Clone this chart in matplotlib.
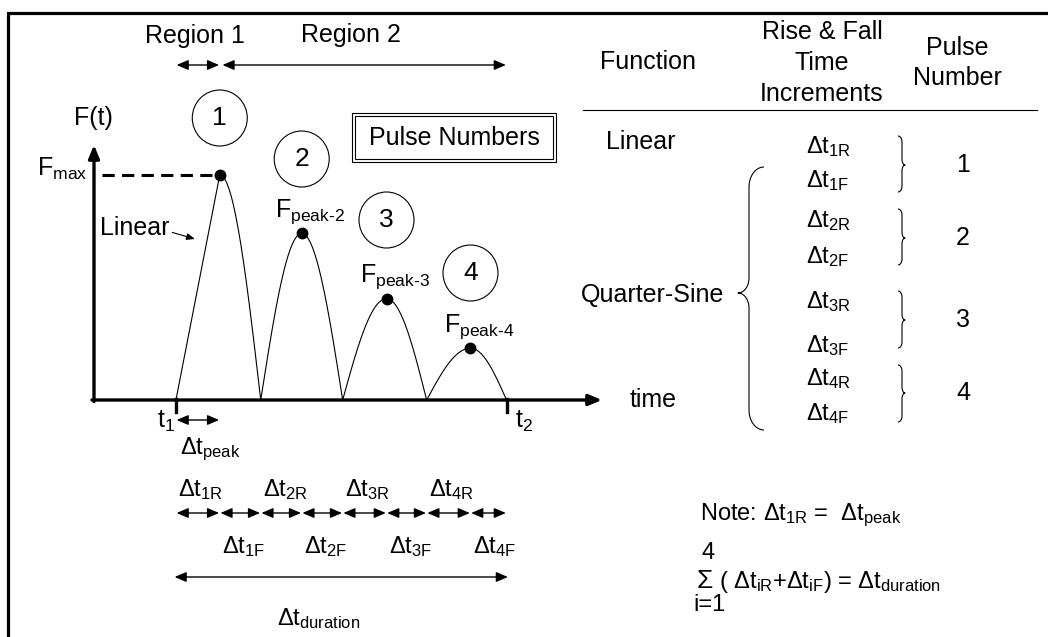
import numpy as np
import matplotlib
matplotlib.use('Agg')
import matplotlib.pyplot as plt
from matplotlib.patches import Ellipse, Rectangle
from matplotlib.transforms import blended_transform_factory

plt.rcParams['font.family'] = ['Liberation Sans', 'DejaVu Sans']
plt.rcParams['mathtext.fontset'] = 'custom'
plt.rcParams['mathtext.rm'] = 'Liberation Sans'
plt.rcParams['mathtext.it'] = 'Liberation Sans'
plt.rcParams['mathtext.default'] = 'regular'

# pulse train (time in arbitrary units, force normalised by Fmax)
t1 = 2.0
rise = [1.07, 1.0, 1.07, 1.07]
fall = [1.0, 1.0, 0.98, 0.88]
peaks = [1.0, 0.74, 0.45, 0.23]
pulse_no = ['1', '2', '3', '4']
t_end = 12.4
f_end = 1.133

# segment edges t1, peak1, end1, peak2, ...
edges = [t1]
for r, f in zip(rise, fall):
    edges.append(edges[-1] + r)
    edges.append(edges[-1] + f)
t_peak = edges[1::2]
t2 = edges[-1]

W, H = 1048, 637
fig = plt.figure(figsize=(W / 100, H / 100), dpi=100)

# overlay in pixel units for the annotations
ov = fig.add_axes([0, 0, 1, 1])
ov.set_xlim(0, W)
ov.set_ylim(H, 0)
ov.axis('off')

# the F(t) plot itself
ax = fig.add_axes([94 / W, (H - 400) / H, (602 - 94) / W, (400 - 145) / H])
ax.set_xlim(0, t_end)
ax.set_ylim(0, f_end)
ax.axis('off')
ax.patch.set_visible(False)

bt = blended_transform_factory(ax.transData, ov.transData)


def to_px(t, f=0.0):
    p = ax.transData.transform((t, f))
    return ov.transData.inverted().transform(p)


def darrow(x0, x1, y, trans=bt, ms=10):
    ov.annotate('', xy=(x1, y), xytext=(x0, y), xycoords=trans, textcoords=trans,
                arrowprops=dict(arrowstyle='<|-|>,head_length=0.7,head_width=0.3',
                                lw=1.0, color='k', mutation_scale=ms,
                                shrinkA=0.5, shrinkB=0.5))


def brace(x, y0, y1, ytip, rx, ry, tx, ty, side, lw=0.8):
    # side=-1 -> '{' , side=+1 -> '}'
    pts = []
    a = np.linspace(0, np.pi / 2, 20)
    # top curl
    cx, cy = x - side * rx, y0 + ry
    pts += list(zip(cx + side * rx * np.sin(a), cy - ry * np.cos(a)))
    # down to tip
    cx, cy = x + side * tx, ytip - ty
    pts += list(zip(cx - side * tx * np.cos(a), cy + ty * np.sin(a)))
    cx, cy = x + side * tx, ytip + ty
    pts += list(zip(cx - side * tx * np.sin(a), cy - ty * np.cos(a)))
    # bottom curl
    cx, cy = x - side * rx, y1 - ry
    pts += list(zip(cx + side * rx * np.cos(a), cy + ry * np.sin(a)))
    xs, ys = zip(*pts)
    ov.plot(xs, ys, color='k', lw=lw, solid_capstyle='butt')


# frame
ov.plot([7.7, 7.7, W], [H, 13, 13], color='k', lw=2.3, solid_joinstyle='miter')

# axes with arrows
axis_arrow = dict(arrowstyle='-|>,head_length=0.6,head_width=0.25', lw=2.4,
                  color='k', mutation_scale=13, shrinkA=0, shrinkB=0)
ax.annotate('', xy=(1, 0), xytext=(-0.004, 0), xycoords='axes fraction',
            arrowprops=axis_arrow)
ax.annotate('', xy=(0, 1), xytext=(0, -0.006), xycoords='axes fraction',
            arrowprops=axis_arrow)

# pulses
xs = [t1, t_peak[0]]
ys = [0, peaks[0]]
for i, p in enumerate(peaks):
    t0 = edges[2 * i]
    tp = edges[2 * i + 1]
    te = edges[2 * i + 2]
    if i > 0:
        s = np.linspace(0, 1, 60)
        xs += list(t0 + s * (tp - t0))
        ys += list(p * np.sin(np.pi / 2 * s))
    s = np.linspace(0, 1, 60)
    xs += list(tp + s * (te - tp))
    ys += list(p * np.cos(np.pi / 2 * s))
ax.plot(xs, ys, color='k', lw=0.8, clip_on=False)
ax.plot(t_peak, peaks, 'o', color='k', ms=7.5, clip_on=False)
ax.plot([0.2, t_peak[0]], [peaks[0], peaks[0]], color='k', lw=2.2,
        ls=(0, (4, 2.4)), clip_on=False)

# t1 / t2 ticks
for t in [t1, t2]:
    ov.plot([t, t], [399, 412], transform=bt, color='k', lw=2.4)

ov.text(157, 428, 't$_1$', fontsize=18, ha='left', va='baseline')
ov.text(515, 428, 't$_2$', fontsize=18, ha='left', va='baseline')
ov.text(87, 176, 'F$_{max}$', fontsize=18, ha='right', va='baseline')
ov.text(93, 118, 'F(t)', fontsize=18, ha='center', va='center')
ov.text(630, 400, 'time', fontsize=18, ha='left', va='center')

# Linear label
ov.annotate('Linear', xy=(195, 239), xytext=(100, 228), xycoords='data',
            fontsize=18, ha='left', va='center',
            arrowprops=dict(arrowstyle='-|>,head_length=0.5,head_width=0.2',
                            lw=0.8, color='k', mutation_scale=10,
                            shrinkA=0, shrinkB=0, relpos=(1.0, 0.35)))

# peak labels
for i in range(1, 4):
    ov.annotate('F$_{peak\\text{-}%s}$' % pulse_no[i], xy=(t_peak[i], peaks[i]),
                xycoords=ax.transData, xytext=(-19, 12), textcoords='offset points',
                fontsize=18, ha='left', va='baseline')

# pulse-number circles
circ_y = [118, 159, 220, 273]
for i, tp in enumerate(t_peak):
    cx = to_px(tp)[0]
    ov.add_patch(Ellipse((cx, circ_y[i]), 55, 56, fill=False, lw=0.8, color='k'))
    ov.text(cx, circ_y[i], pulse_no[i], fontsize=19, ha='center', va='center')

# Pulse Numbers box
ov.add_patch(Rectangle((352, 113), 204, 49, fill=False, lw=0.8, color='k'))
ov.add_patch(Rectangle((355, 116), 198, 43, fill=False, lw=0.8, color='k'))
ov.text(454, 138, 'Pulse Numbers', fontsize=18, ha='center', va='center')

# Regions
ov.text(195, 36, 'Region 1', fontsize=18, ha='center', va='center')
ov.text(351, 35, 'Region 2', fontsize=18, ha='center', va='center')
darrow(t1, t_peak[0], 65)
darrow(t_peak[0] + 0.05, t2, 65)

# delta t annotations below the time axis
darrow(t1, t_peak[0], 420)
ov.text(180, 454, 'Δt$_{peak}$', fontsize=17, ha='left', va='baseline')
for k in range(8):
    darrow(edges[k], edges[k + 1], 513)
    n = pulse_no[k // 2]
    if k % 2 == 0:
        ov.annotate('Δt$_{%sR}$' % n, xy=(edges[k], 496), xycoords=bt,
                    xytext=(1.5, 0), textcoords='offset points',
                    fontsize=17, ha='left', va='baseline')
    else:
        ov.annotate('Δt$_{%sF}$' % n, xy=(edges[k], 553), xycoords=bt,
                    xytext=(1.5, 0), textcoords='offset points',
                    fontsize=17, ha='left', va='baseline')
darrow(t1 - 0.05, t2 + 0.05, 577)
ov.text(277, 625, 'Δt$_{duration}$', fontsize=17, ha='left', va='baseline')

# table on the right
ov.text(648, 62, 'Function', fontsize=18, ha='center', va='center')
for txt, y in zip(['Rise & Fall', 'Time', 'Increments'], [32, 63, 94]):
    ov.text(822, y, txt, fontsize=18, ha='center', va='center')
for txt, y in zip(['Pulse', 'Number'], [48, 78]):
    ov.text(957, y, txt, fontsize=18, ha='center', va='center')
ov.plot([583, 1037], [110, 110], color='k', lw=0.8)

ov.text(641, 142, 'Linear', fontsize=18, ha='center', va='center')
ov.text(581, 295, 'Quarter-Sine', fontsize=18, ha='left', va='center')

tab_base = [153, 187, 227, 263, 308, 352, 385, 420]
for k in range(8):
    n = pulse_no[k // 2]
    lab = 'Δt$_{%s%s}$' % (n, 'R' if k % 2 == 0 else 'F')
    ov.text(806, tab_base[k], lab, fontsize=17, ha='left', va='baseline')

num_y = [165, 238, 320, 393]
brace_span = [(136, 192), (209, 265), (291, 348), (365, 422)]
for i in range(4):
    y0, y1 = brace_span[i]
    brace(902, y0, y1, num_y[i], 4, 6, 3, 6, +1)
    ov.text(963, num_y[i], pulse_no[i], fontsize=18, ha='center', va='center')

brace(749, 167, 430, 293, 15, 20, 11, 15, -1)

# notes
ov.text(700, 520, 'Note: Δt$_{1R}$ =  Δt$_{peak}$', fontsize=17, ha='left', va='baseline')
ov.text(702, 553, '4', fontsize=17, ha='left', va='center')
ov.text(697, 588, 'Σ', fontsize=19, ha='left', va='baseline')
ov.text(719, 588, '( Δt$_{iR}$+Δt$_{iF}$) = Δt$_{duration}$', fontsize=17,
        ha='left', va='baseline')
ov.text(693, 605, 'i=1', fontsize=17, ha='left', va='center')

fig.savefig('out.png', dpi=100)
